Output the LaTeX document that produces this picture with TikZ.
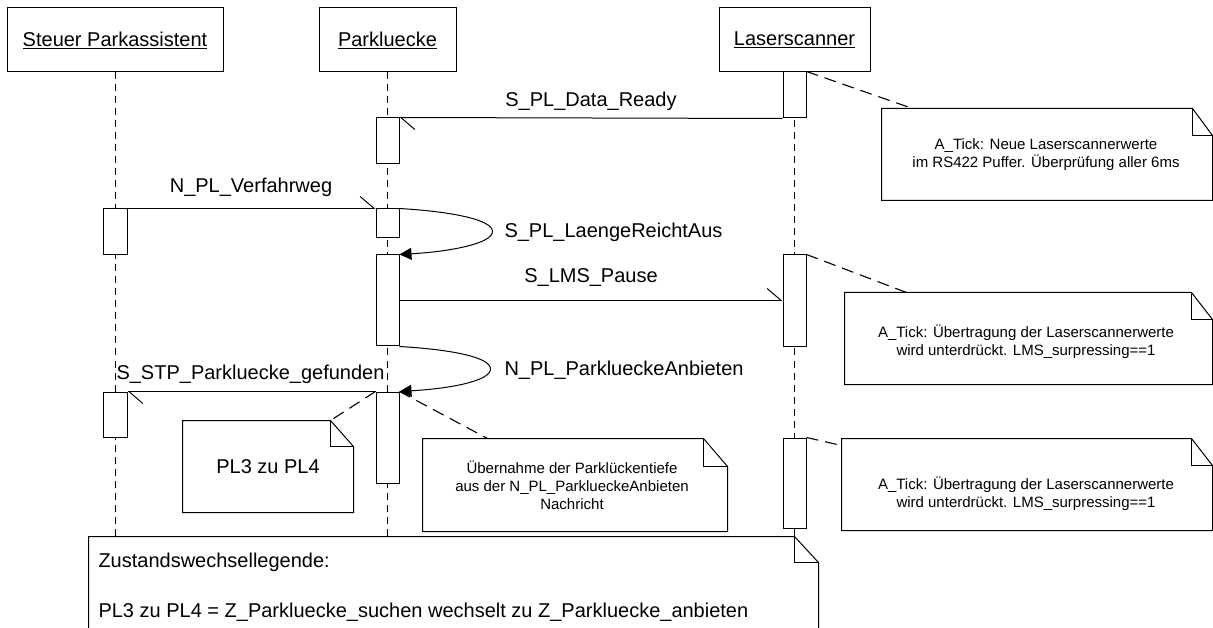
\documentclass[tikz,border=0pt]{standalone}
\usepackage{fontspec}
\setmainfont{Liberation Sans}
\usetikzlibrary{arrows.meta,calc,backgrounds}

% outline of a UML note with a folded top-right corner
\newcommand\notepath[3]{%
  \draw (#1.north west) -- ($(#1.north east)+(-#2,0)$) -- ($(#1.north east)+(0,#3)$)
        -- (#1.south east) -- (#1.south west) -- cycle;
  \draw ($(#1.north east)+(-#2,0)$) -- ($(#1.north east)+(-#2,#3)$) -- ($(#1.north east)+(0,#3)$);
}

\begin{document}
\begin{tikzpicture}[x=1pt,y=-1pt,line width=1pt,
  big/.style={font=\fontsize{20}{24}\selectfont},
  small/.style={font=\fontsize{15}{18}\selectfont},
  head/.style={draw,fill=white,big,minimum height=64pt,inner sep=0pt},
  act/.style={draw,fill=white,minimum width=23pt,inner sep=0pt},
  life/.style={dash pattern=on 7pt off 5pt,line width=0.9pt},
  async/.style={-{Straight Barb[left,length=14pt,width=24pt]}},
  selfmsg/.style={-{Triangle[length=12pt,width=12pt]}},
  noteline/.style={dash pattern=on 12pt off 7pt,line width=1.1pt},
  notebox/.style={fill=white,inner sep=0pt},
  lbl/.style={big,anchor=base,inner sep=0pt},
  notetext/.style={small,align=center,inner sep=0pt},
]
\path[use as bounding box] (0,0) rectangle (1213,628);
\clip (0,0) rectangle (1213,628);

% lifeline heads
\node[head,minimum width=216pt] (h1) at (115,40)   {\underline{Steuer Parkassistent}};
\node[head,minimum width=137pt] (h2) at (387.5,40) {\underline{Parkluecke}};
\node[head,minimum width=151pt] (h3) at (794.5,40) {\underline{Laserscanner}};

% activation bars
\node[act,minimum height=46pt] (la1) at (794.5,95)  {};
\node[act,minimum height=92pt] (la2) at (794.5,301) {};
\node[act,minimum height=90pt] (la3) at (794.5,483) {};
\node[act,minimum height=46pt] (pa1) at (387.5,141)   {};
\node[act,minimum height=29pt] (pa2) at (387.5,223.5) {};
\node[act,minimum height=91pt] (pa3) at (387.5,300.5) {};
\node[act,minimum height=91pt] (pa4) at (387.5,437.5) {};
\node[act,minimum width=24pt,minimum height=46pt] (sa1) at (115,232)   {};
\node[act,minimum width=24pt,minimum height=45pt] (sa2) at (115,414.5) {};

% notes
\node[notebox,minimum width=330pt,minimum height=91pt] (n1) at (1047,154.5) {};
\node[notebox,minimum width=367pt,minimum height=91pt] (n2) at (1028.5,338.5) {};
\node[notebox,minimum width=370pt,minimum height=91pt] (n3) at (1027,484.5) {};
\node[notebox,minimum width=304pt,minimum height=92pt] (n4) at (575,485) {};
\node[notebox,minimum width=170pt,minimum height=91pt] (n5) at (268,466.5) {};
\node[notebox,minimum width=729pt,minimum height=126pt] (leg) at (453.5,600) {};

\notepath{n1}{20}{27}
\notepath{n2}{21}{27}
\notepath{n3}{21}{27}
\notepath{n4}{24}{28}
\notepath{n5}{23}{26}
\notepath{leg}{24}{26}

% messages
\draw[async] (la1.south west) -- (pa1.north east);
\draw[async] (sa1.north east) -- (pa2.north west);
\draw[async] (pa3.east) -- (pa3.east -| la2.west);
\draw[async] (pa4.north west) -- (sa2.north east);

\coordinate (t1) at ($(pa2.north east)!0.5!(pa3.north east)+(93,0)$);
\draw[selfmsg] (pa2.north east) .. controls +(51,3) and +(0,-12) .. (t1)
               .. controls +(0,12) and +(51,-3) .. (pa3.north east);
\coordinate (t2) at ($(pa3.south east)!0.5!(pa4.north east)+(91,0)$);
\draw[selfmsg] (pa3.south east) .. controls +(51,3) and +(0,-12) .. (t2)
               .. controls +(0,12) and +(51,-3) .. (pa4.north east);

% message labels
\node[lbl] (l1) at (591,107) {S\_PL\_Data\_Ready};
\node[lbl] (l2) at (251,193) {N\_PL\_Verfahrweg};
\node[lbl,anchor=base west] (l3) at (504,238) {S\_PL\_LaengeReichtAus};
\node[lbl] (l4) at (591,283) {S\_LMS\_Pause};
\node[lbl,anchor=base west] (l5) at (504,375) {N\_PL\_ParklueckeAnbieten};
\node[lbl] (l6) at (250.5,379) {S\_STP\_Parkluecke\_gefunden};

% note texts
\node[notetext] (t1n) at (1046,155) {A\_Tick: Neue Laserscannerwerte\\im RS422 Puffer. Überprüfung aller 6ms};
\node[notetext] (t2n) at (1026,341.5) {A\_Tick: Übertragung der Laserscannerwerte\\wird unterdrückt. LMS\_surpressing==1};
\node[notetext] (t3n) at (1026,494) {A\_Tick: Übertragung der Laserscannerwerte\\wird unterdrückt. LMS\_surpressing==1};
\node[notetext] (t4n) at (572,485) {Übernahme der Parklückentiefe\\aus der N\_PL\_ParklueckeAnbieten\\Nachricht};
\node[big,inner sep=0pt] (t5n) at (268,467) {PL3 zu PL4};
\node[lbl,anchor=base west] (g1) at (98,567) {Zustandswechsellegende:};
\node[lbl,anchor=base west] (g2) at (98,617) {PL3 zu PL4 = Z\_Parkluecke\_suchen wechselt zu Z\_Parkluecke\_anbieten};

% lifelines and note anchors behind everything
\begin{scope}[on background layer]
  \draw[life] (h1.south) -- (h1.south |- leg.north);
  \draw[life] (h2.south) -- (h2.south |- leg.north);
  \draw[life] (h3.south) -- (h3.south |- leg.north);
  \draw[noteline] (la1.north east) -- ($(n1.north west)+(31,0)$);
  \draw[noteline] (la2.north east) -- ($(n2.north west)+(62,0)$);
  \draw[noteline] (la3.north east) -- ($(n3.north west)+(0,7)$);
  \draw[noteline] (pa4.north east) -- ($(n4.north west)+(65,0)$);
  \draw[noteline] (pa4.north west) -- ($(n5.north east)+(-23,0)$);
\end{scope}
\end{tikzpicture}
\end{document}
